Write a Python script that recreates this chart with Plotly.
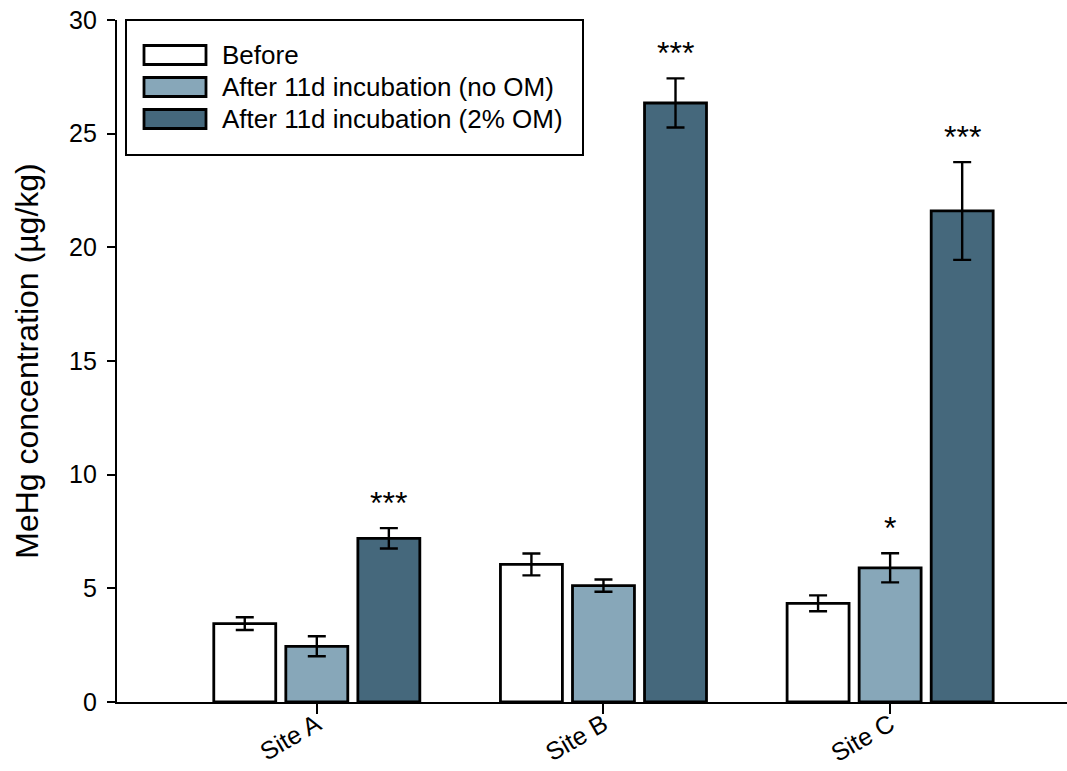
import plotly.graph_objects as go

sites = ["Site A", "Site B", "Site C"]
series_names = ["Before", "After 11d incubation (no OM)", "After 11d incubation (2% OM)"]
before = [3.45, 6.05, 4.34]
before_err = [0.28, 0.48, 0.35]
no_om = [2.45, 5.12, 5.90]
no_om_err = [0.44, 0.27, 0.64]
om2 = [7.20, 26.35, 21.60]
om2_err = [0.45, 1.08, 2.15]
signif_no_om = ["", "", "*"]
signif_om2 = ["***", "***", "***"]

colors = ["#ffffff", "#87a7b9", "#45687c"]
FONT = "Liberation Sans, Arial, sans-serif"

x = list(range(len(sites)))
fig = go.Figure()
for name, vals, errs, col in zip(series_names, [before, no_om, om2],
                                 [before_err, no_om_err, om2_err], colors):
    fig.add_trace(go.Bar(
        x=x, y=vals, name=name,
        marker=dict(color=col, line=dict(color="black", width=2.8)),
        error_y=dict(type="data", array=errs, visible=True, color="black",
                     thickness=2.4, width=9),
        showlegend=False,
    ))

fig.update_layout(
    barmode="group", bargap=0.246, bargroupgap=0.14,
    width=1067, height=771,
    margin=dict(l=117, r=0, t=20, b=69, pad=0),
    plot_bgcolor="white", paper_bgcolor="white",
    font=dict(family=FONT, size=25, color="black"),
)
fig.update_xaxes(
    range=[-0.697, 2.617], tickvals=x, ticktext=sites, tickangle=-30,
    showline=True, linecolor="black", linewidth=2.4,
    ticks="outside", ticklen=10, tickwidth=2, tickcolor="black",
    showgrid=False, zeroline=False, tickfont=dict(size=25), automargin=False,
    ticklabelstandoff=-14,
)
fig.update_yaxes(
    range=[0, 30], tickvals=[0, 5, 10, 15, 20, 25, 30],
    showline=True, linecolor="black", linewidth=2.4,
    ticks="outside", ticklen=8, tickwidth=2, tickcolor="black",
    showgrid=False, zeroline=False, tickfont=dict(size=25), automargin=False,
    ticklabelstandoff=5,
    title=dict(text="MeHg concentration (µg/kg)", font=dict(size=32), standoff=21),
)

# significance markers
offsets = [-0.2513, 0.0, 0.2513]
for j, (vals, errs, sig) in enumerate([(no_om, no_om_err, signif_no_om), (om2, om2_err, signif_om2)]):
    off = offsets[j + 1]
    for i in range(len(sites)):
        if sig[i]:
            fig.add_annotation(x=i + off, y=vals[i] + errs[i], text=sig[i],
                               showarrow=False, yanchor="bottom", yshift=5,
                               font=dict(size=32, family=FONT))

# custom legend (box, swatches, labels)
def px_x(p):
    return (p - 117) / 950

def px_y(p):
    return (702 - p) / 682

fig.add_shape(type="rect", xref="paper", yref="paper",
              x0=px_x(126), x1=px_x(583), y0=px_y(155), y1=px_y(20),
              line=dict(color="black", width=2), fillcolor="white", layer="above")
rows = [55, 87, 119]
for name, col, r in zip(series_names, colors, rows):
    fig.add_shape(type="rect", xref="paper", yref="paper",
                  x0=px_x(144), x1=px_x(206), y0=px_y(r + 9.5), y1=px_y(r - 9.5),
                  line=dict(color="black", width=2.8), fillcolor=col, layer="above")
    fig.add_annotation(xref="paper", yref="paper", x=px_x(220), y=px_y(r),
                       text=name, showarrow=False, xanchor="left", yanchor="middle",
                       font=dict(size=26, family=FONT))

fig.write_html("out.html")
